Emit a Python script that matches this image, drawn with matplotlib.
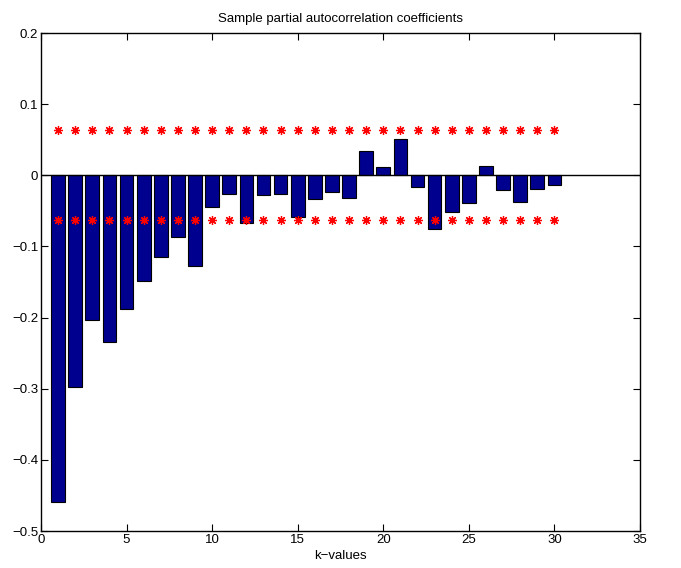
import numpy as np
import matplotlib
matplotlib.use("Agg")
import matplotlib.pyplot as plt

# lag values and sample partial autocorrelations
lags = np.arange(1, 31)
pacf = [
    -0.459, -0.298, -0.2035, -0.235, -0.188, -0.149, -0.115, -0.087, -0.127, -0.045,
    -0.026, -0.067, -0.028, -0.026, -0.059, -0.034, -0.023, -0.032, 0.0335, 0.012,
    0.051, -0.017, -0.075, -0.051, -0.039, 0.0135, -0.020, -0.038, -0.019, -0.013,
]
bound = 0.063  # confidence bound, +/-
x_ticks = [0, 5, 10, 15, 20, 25, 30, 35]
y_ticks = [-0.5, -0.4, -0.3, -0.2, -0.1, 0, 0.1, 0.2]
y_labels = ["\u22120.5", "\u22120.4", "\u22120.3", "\u22120.2", "\u22120.1", "0", "0.1", "0.2"]

plt.rcParams["font.family"] = ["Liberation Sans", "DejaVu Sans"]
plt.rcParams["font.size"] = 9.5

fig = plt.figure(figsize=(6.81, 5.68), dpi=100)
ax = fig.add_axes([0.0602, 0.0651, 0.8796, 0.8768])

ax.bar(lags, pacf, width=0.8, color="#00008F", edgecolor="black", linewidth=0.8, zorder=2)
ax.axhline(0, color="black", linewidth=1.0, zorder=3)
ax.plot(lags, [bound] * len(lags), linestyle="none", marker=(8, 2, 0),
        markersize=6.5, markeredgewidth=0.9, color="red", zorder=4)
ax.plot(lags, [-bound] * len(lags), linestyle="none", marker=(8, 2, 0),
        markersize=6.5, markeredgewidth=0.9, color="red", zorder=4)

ax.set_xlim(0, 35)
ax.set_ylim(-0.5, 0.2)
ax.set_xticks(x_ticks)
ax.set_yticks(y_ticks)
ax.set_yticklabels(y_labels)
ax.tick_params(direction="in", top=True, right=True, length=5, width=0.8, labelsize=9.5, pad=2)
for s in ax.spines.values():
    s.set_linewidth(1.0)

ax.set_xlabel("k\u2212values", fontsize=9.5, labelpad=3)
ax.set_title("Sample partial autocorrelation coefficients", fontsize=9.5, pad=8)

fig.savefig("out.png", dpi=100)
